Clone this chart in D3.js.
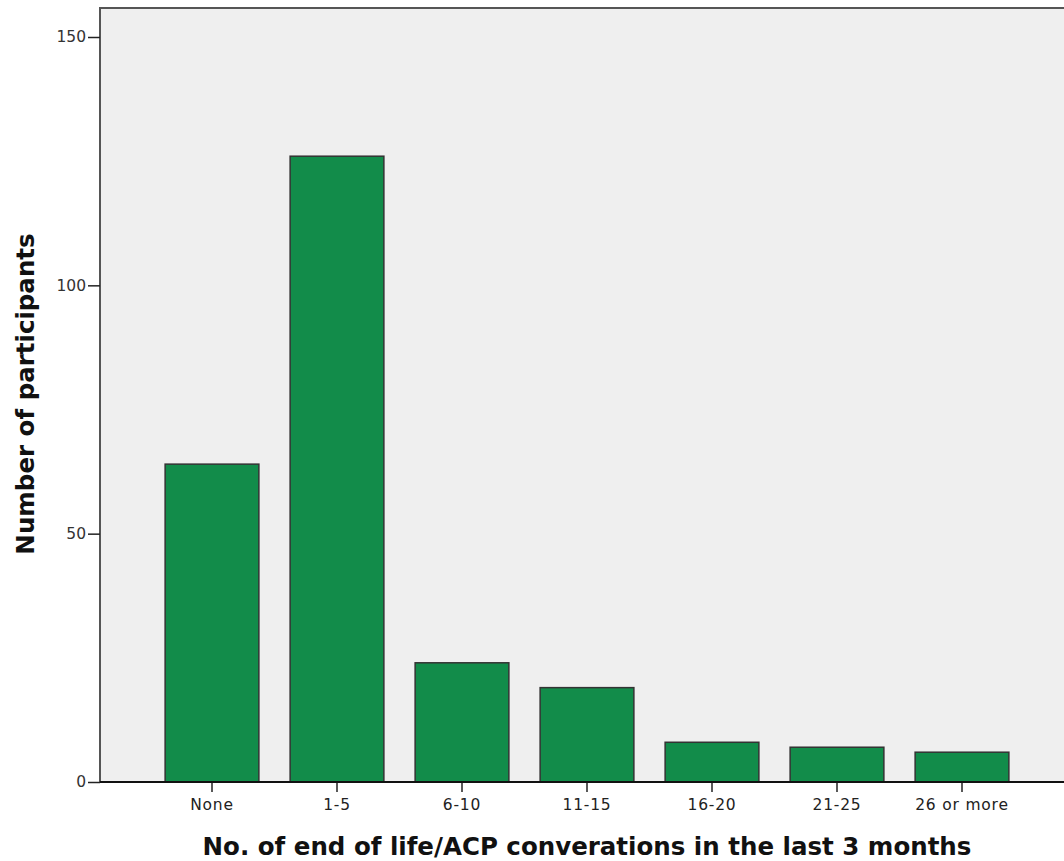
<!DOCTYPE html>
<html><head><meta charset="utf-8">
<script src="https://cdn.jsdelivr.net/npm/d3@7"></script>
<style>body{margin:0;background:#fff;} svg{display:block;}</style>
</head><body>
<svg id="c" width="1064" height="861"></svg>
<script>
const categories = ["None","1-5","6-10","11-15","16-20","21-25","26 or more"];
const counts = [64,126,24,19,8,7,6];
const yTicks = [0,50,100,150];

(function(){
const svg = d3.select("#c");
const mLeft = 100, mTop = 8, mBottom = 782, mRight = 1066;
const font = "'DejaVu Sans', Verdana, sans-serif";

const y = d3.scaleLinear().domain([0,150]).range([mBottom, 37]);
const x = d3.scaleBand().domain(categories).range([149.5, 1024.5]).paddingInner(0.25).paddingOuter(0.125);

svg.append("rect").attr("x", mLeft).attr("y", mTop).attr("width", mRight-mLeft).attr("height", mBottom-mTop)
  .attr("fill", "#efefef").attr("stroke", "#555").attr("stroke-width", 2);

svg.append("g").selectAll("rect").data(counts).join("rect")
  .attr("x", (d,i)=>x(categories[i]))
  .attr("y", d=>y(d))
  .attr("width", x.bandwidth())
  .attr("height", d=>mBottom - y(d))
  .attr("fill", "#128c4a").attr("stroke", "#333").attr("stroke-width", 1.5);

const ya = svg.append("g").attr("transform", `translate(${mLeft},0)`)
  .call(d3.axisLeft(y).tickValues(yTicks).tickSize(12).tickPadding(2));
ya.select(".domain").remove();
ya.selectAll("line").attr("stroke","#222").attr("stroke-width",1.5);
ya.selectAll("text").attr("font-family", font).attr("font-size", 15.5).attr("fill","#333");

const xa = svg.append("g").attr("transform", `translate(0,${mBottom})`)
  .call(d3.axisBottom(x).tickSize(10).tickPadding(7));
xa.select(".domain").remove();
xa.selectAll("line").attr("stroke","#222").attr("stroke-width",1.5);
xa.selectAll("text").attr("font-family", font).attr("font-size", 15.5)
  .attr("letter-spacing", 0.8).attr("fill","#222");

svg.append("line").attr("x1", mLeft).attr("x2", mRight).attr("y1", mBottom).attr("y2", mBottom)
  .attr("stroke","#111").attr("stroke-width",2);

svg.append("text").attr("x", 587).attr("y", 855).attr("text-anchor","middle")
  .attr("font-family", font).attr("font-weight","bold").attr("font-size", 24.5).attr("fill","#111")
  .text("No. of end of life/ACP converations in the last 3 months");

svg.append("text").attr("transform", "translate(34,394) rotate(-90)").attr("text-anchor","middle")
  .attr("font-family", font).attr("font-weight","bold").attr("font-size", 24.5).attr("fill","#111")
  .text("Number of participants");
})();
</script>
</body></html>
